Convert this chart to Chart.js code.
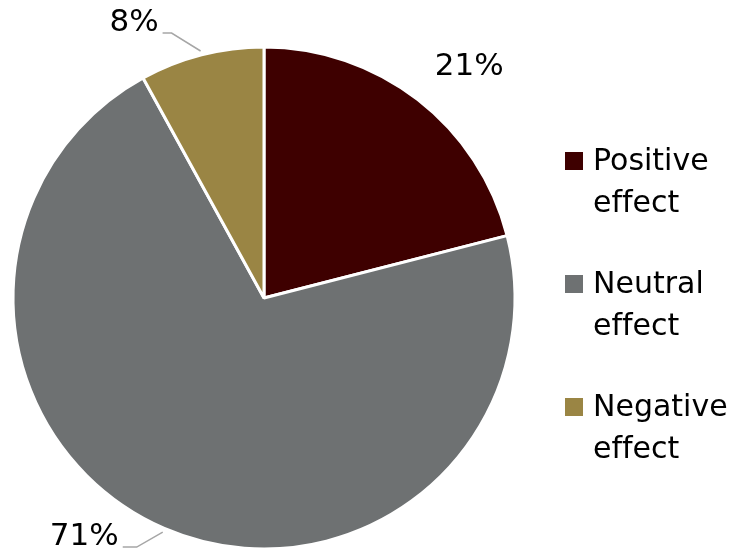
<!DOCTYPE html>
<html>
<head>
<meta charset="utf-8">
<script src="https://cdn.jsdelivr.net/npm/chart.js@4/dist/chart.umd.min.js"></script>
<style>
  html, body { margin: 0; padding: 0; background: #fff; }
  #wrap { width: 735px; height: 554px; }
</style>
</head>
<body>
<div id="wrap"><canvas id="effectChart" width="735" height="554"></canvas></div>
<script>
const categories = ["Positive effect", "Neutral effect", "Negative effect"];
// ZWNJ keeps "ff" from turning into a ligature
const legendLines = [["Positive", "ef\u200cfect"], ["Neutral", "ef\u200cfect"], ["Negative", "ef\u200cfect"]];
const shares = [21, 71, 8];
const sliceColors = ["#3e0000", "#6e7172", "#9a8544"];

const FONT = "DejaVu Sans, Liberation Sans, Arial, sans-serif";

// where each percentage label sits relative to the slice edge at its mid angle
// leader: [elbow dx, elbow dy, horizontal run] (null = no leader line)
const labelPlacement = [
    { dx: 49, dy: -30, leader: null },
    { leader: [-26, 15, -14] },
    { leader: [-29, -18, -9] },
];

const pctLabels = {
    id: "pctLabels",
    afterDatasetsDraw(chart) {
        const ctx = chart.ctx;
        const arcs = chart.getDatasetMeta(0).data;
        ctx.save();
        ctx.font = "31px " + FONT;
        ctx.fillStyle = "#000";
        ctx.textBaseline = "middle";
        arcs.forEach((arc, i) => {
            const { x, y, startAngle, endAngle, outerRadius } = arc.getProps(["x", "y", "startAngle", "endAngle", "outerRadius"], true);
            const mid = (startAngle + endAngle) / 2;
            const r = outerRadius + 4;
            const ax = x + Math.cos(mid) * r;
            const ay = y + Math.sin(mid) * r;
            const place = labelPlacement[i];
            const text = shares[i] + "%";
            if (place.leader) {
                const [ex, ey, run] = place.leader;
                ctx.strokeStyle = "#a6a6a6";
                ctx.lineWidth = 1.5;
                ctx.beginPath();
                ctx.moveTo(ax, ay);
                ctx.lineTo(ax + ex, ay + ey);
                ctx.lineTo(ax + ex + run, ay + ey);
                ctx.stroke();
                ctx.textAlign = "right";
                ctx.fillText(text, ax + ex + run - 4, ay + ey - 10);
            } else {
                ctx.textAlign = "center";
                ctx.fillText(text, ax + place.dx, ay + place.dy);
            }
        });
        ctx.restore();
    },
};

const sideLegend = {
    id: "sideLegend",
    afterDraw(chart) {
        const ctx = chart.ctx;
        const boxX = 565, textX = 593, box = 18;
        const firstY = 161, lineGap = 42, groupGap = 123;
        ctx.save();
        ctx.font = "30px " + FONT;
        ctx.textAlign = "left";
        ctx.textBaseline = "middle";
        legendLines.forEach((lines, i) => {
            const y = firstY + i * groupGap;
            ctx.fillStyle = sliceColors[i];
            ctx.fillRect(boxX, y - box / 2, box, box);
            ctx.fillStyle = "#000";
            lines.forEach((line, j) => ctx.fillText(line, textX, y + j * lineGap + 1));
        });
        ctx.restore();
    },
};

new Chart(document.querySelector("#effectChart"), {
    type: "pie",
    data: {
        labels: categories,
        datasets: [
            {
                data: shares,
                backgroundColor: sliceColors,
                borderColor: "#ffffff",
                borderWidth: 3,
                hoverOffset: 0,
            },
        ],
    },
    options: {
        responsive: false,
        animation: false,
        radius: 251,
        layout: { padding: { left: 14, right: 221, top: 48, bottom: 6 } },
        plugins: {
            legend: { display: false },
            tooltip: { enabled: false },
        },
    },
    plugins: [pctLabels, sideLegend],
});
</script>
</body>
</html>
